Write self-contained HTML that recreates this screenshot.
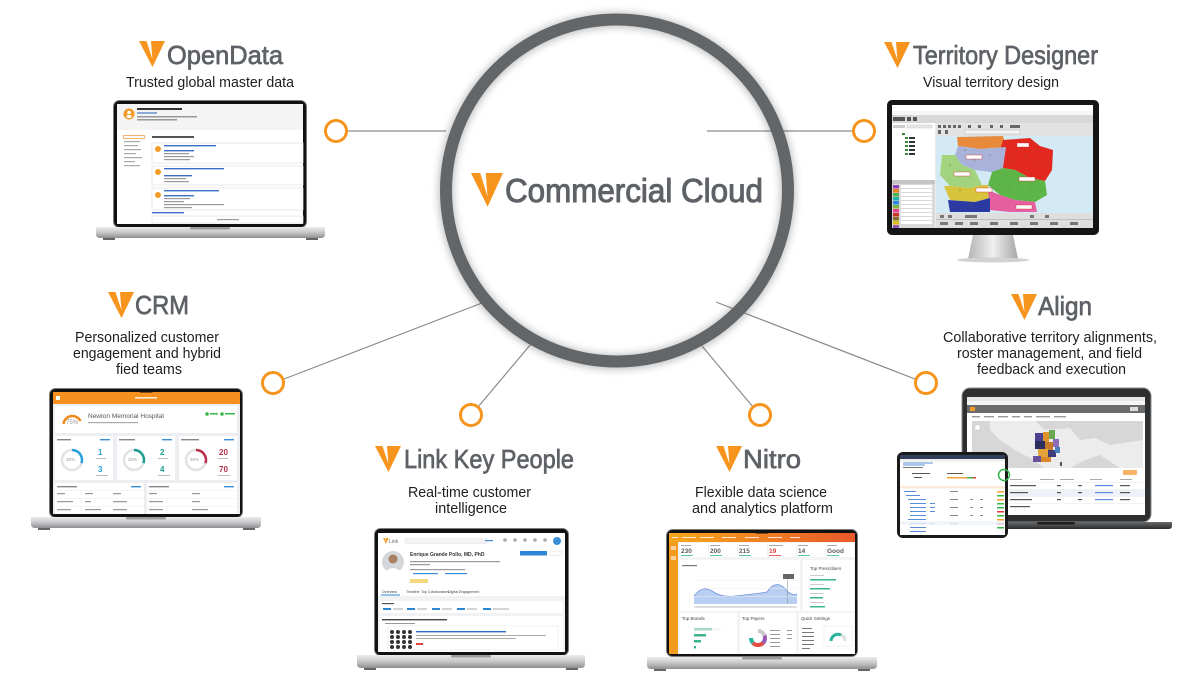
<!DOCTYPE html>
<html><head><meta charset="utf-8"><style>html,body{margin:0;padding:0;background:#fff}svg{display:block}</style></head>
<body>
<svg width="1200" height="686" viewBox="0 0 1200 686" xmlns="http://www.w3.org/2000/svg" font-family="'Liberation Sans', Arial, sans-serif">
<defs>
<linearGradient id="base" x1="0" y1="0" x2="0" y2="1"><stop offset="0" stop-color="#ececed"/><stop offset="0.5" stop-color="#c6c7c9"/><stop offset="1" stop-color="#8e8f91"/></linearGradient>
<linearGradient id="dbase" x1="0" y1="0" x2="0" y2="1"><stop offset="0" stop-color="#6a6b6d"/><stop offset="1" stop-color="#2a2b2d"/></linearGradient>
<linearGradient id="stand" x1="0" y1="0" x2="1" y2="0"><stop offset="0" stop-color="#b4b4b4"/><stop offset=".5" stop-color="#f0f0f0"/><stop offset="1" stop-color="#a6a6a6"/></linearGradient>
<linearGradient id="nbar" x1="0" y1="0" x2="1" y2="0"><stop offset="0" stop-color="#f7a81c"/><stop offset="1" stop-color="#e8582a"/></linearGradient>
<filter id="blur" x="-20%" y="-20%" width="140%" height="140%"><feGaussianBlur stdDeviation="4"/></filter>
<g id="v"><polygon points="0,0 26,0 13.5,26" fill="#f7941d"/><polygon points="7.5,0 12,0 13.4,18" fill="#fff"/></g>
</defs>

<!-- connector lines -->
<g stroke="#8c8c8c" stroke-width="1.2" fill="none">
<line x1="347" y1="131" x2="446" y2="131"/>
<line x1="707" y1="131" x2="853" y2="131"/>
<line x1="284" y1="379" x2="482" y2="303"/>
<line x1="716" y1="302" x2="915" y2="379"/>
<line x1="478" y1="407" x2="531" y2="344"/>
<line x1="753" y1="407" x2="702" y2="346"/>
</g>

<!-- central circle -->
<circle cx="617" cy="191" r="171" fill="none" stroke="#000" stroke-opacity="0.25" stroke-width="15" filter="url(#blur)"/>
<circle cx="617" cy="190.5" r="171" fill="none" stroke="#626669" stroke-width="12"/>
<use href="#v" transform="translate(471,173) scale(1.23,1.3)"/>
<text x="505" y="202" font-size="33" fill="#5e6266" stroke="#5e6266" stroke-width="1" textLength="258" lengthAdjust="spacingAndGlyphs">Commercial Cloud</text>

<!-- rings -->
<g fill="#fff" stroke="#f7941d" stroke-width="3">
<circle cx="336" cy="131" r="10.5"/>
<circle cx="864" cy="131" r="10.5"/>
<circle cx="273" cy="383" r="10.5"/>
<circle cx="926" cy="383" r="10.5"/>
<circle cx="471" cy="415" r="10.5"/>
<circle cx="760" cy="415" r="10.5"/>
</g>

<!-- product titles -->
<g fill="#5e6266" stroke="#5e6266" stroke-width="0.7" font-size="26">
<text x="167" y="64" textLength="116" lengthAdjust="spacingAndGlyphs">OpenData</text>
<text x="913" y="64" textLength="185" lengthAdjust="spacingAndGlyphs">Territory Designer</text>
<text x="135" y="314" textLength="54" lengthAdjust="spacingAndGlyphs">CRM</text>
<text x="1038" y="315" textLength="54" lengthAdjust="spacingAndGlyphs">Align</text>
<text x="404" y="468" textLength="170" lengthAdjust="spacingAndGlyphs">Link Key People</text>
<text x="743" y="468" textLength="58" lengthAdjust="spacingAndGlyphs">Nitro</text>
</g>
<use href="#v" transform="translate(139,41)"/>
<use href="#v" transform="translate(884,42)"/>
<use href="#v" transform="translate(108,292)"/>
<use href="#v" transform="translate(1011,294)"/>
<use href="#v" transform="translate(375,446)"/>
<use href="#v" transform="translate(716,446)"/>

<!-- subtitles -->
<g fill="#1e1e1e" font-size="14.5">
<text x="126" y="87" textLength="168" lengthAdjust="spacingAndGlyphs">Trusted global master data</text>
<text x="923" y="87" textLength="136" lengthAdjust="spacingAndGlyphs">Visual territory design</text>
<text x="75" y="342" textLength="144" lengthAdjust="spacingAndGlyphs">Personalized customer</text>
<text x="73" y="358" textLength="148" lengthAdjust="spacingAndGlyphs">engagement and hybrid</text>
<text x="116" y="374" textLength="66" lengthAdjust="spacingAndGlyphs">fied teams</text>
<text x="943" y="342" textLength="214" lengthAdjust="spacingAndGlyphs">Collaborative territory alignments,</text>
<text x="957" y="358" textLength="185" lengthAdjust="spacingAndGlyphs">roster management, and field</text>
<text x="977" y="374" textLength="149" lengthAdjust="spacingAndGlyphs">feedback and execution</text>
<text x="408" y="497" textLength="123" lengthAdjust="spacingAndGlyphs">Real-time customer</text>
<text x="435" y="513" textLength="72" lengthAdjust="spacingAndGlyphs">intelligence</text>
<text x="695" y="497" textLength="132" lengthAdjust="spacingAndGlyphs">Flexible data science</text>
<text x="692" y="513" textLength="141" lengthAdjust="spacingAndGlyphs">and analytics platform</text>
</g>

<!-- ============ OpenData laptop ============ -->
<rect x="113.5" y="100.5" width="193" height="127" rx="6" fill="#111" stroke="#7d7d7d"/>
<rect x="117" y="104" width="186" height="120" fill="#fff"/>
<rect x="203" y="101" width="14" height="3.5" rx="1.5" fill="#111"/>
<path d="M96 227 H325 V234 Q325 238 321 238 H100 Q96 238 96 234 Z" fill="url(#base)"/>
<rect x="190" y="227" width="40" height="2.5" rx="1" fill="#9d9d9d"/>
<rect x="103" y="238" width="12" height="2" fill="#666"/><rect x="306" y="238" width="12" height="2" fill="#666"/>
<rect x="117" y="104" width="186" height="26" fill="#f4f4f4"/>
<circle cx="129" cy="114" r="5.5" fill="#f39a2b"/>
<circle cx="129" cy="112.5" r="1.8" fill="#fff"/><rect x="126.5" y="115" width="5" height="3" rx="1.5" fill="#fff"/>
<rect x="137" y="108" width="45" height="2" fill="#333"/>
<rect x="137" y="112" width="20" height="2" fill="#8aaad8"/>
<rect x="137" y="116" width="60" height="1.5" fill="#999"/>
<rect x="137" y="119" width="40" height="1.5" fill="#999"/>
<rect x="123.5" y="135.5" width="21" height="3" fill="#fff" stroke="#f7a04a" stroke-width="0.8"/>
<g fill="#aaa"><rect x="124" y="141" width="16" height="1.2"/><rect x="124" y="145" width="14" height="1.2"/><rect x="124" y="149" width="17" height="1.2"/><rect x="124" y="153" width="12" height="1.2"/><rect x="124" y="157" width="18" height="1.2"/><rect x="124" y="161" width="11" height="1.2"/><rect x="124" y="165" width="16" height="1.2"/></g>
<rect x="152" y="136" width="42" height="2" fill="#555"/>
<g fill="#fff" stroke="#e3e3e3" stroke-width="0.8">
<rect x="152" y="143" width="151" height="20"/><rect x="152" y="166" width="151" height="19"/><rect x="152" y="188" width="151" height="22"/><rect x="152" y="216" width="151" height="7"/></g>
<g fill="#f39a2b"><circle cx="158" cy="149" r="3"/><circle cx="158" cy="172" r="3"/><circle cx="158" cy="195" r="3"/></g>
<g fill="#3a6fc4"><rect x="164" y="145" width="52" height="1.4"/><rect x="164" y="150" width="30" height="1.4"/><rect x="164" y="168" width="60" height="1.4"/><rect x="164" y="175" width="28" height="1.4"/><rect x="164" y="190" width="55" height="1.4"/><rect x="164" y="195" width="30" height="1.4"/><rect x="152" y="212" width="32" height="1.4"/></g>
<g fill="#9a9a9a"><rect x="164" y="153" width="25" height="1.2"/><rect x="164" y="156" width="30" height="1.2"/><rect x="164" y="159" width="26" height="1.2"/><rect x="164" y="178" width="22" height="1.2"/><rect x="164" y="181" width="25" height="1.2"/><rect x="164" y="198" width="26" height="1.2"/><rect x="164" y="201" width="20" height="1.2"/><rect x="164" y="204" width="60" height="1.2"/><rect x="164" y="207" width="28" height="1.2"/><rect x="217" y="219" width="22" height="1.2"/></g>

<!-- ============ Territory monitor ============ -->
<path d="M973 235 L1013 235 L1018 259 L968 259 Z" fill="url(#stand)"/>
<ellipse cx="993" cy="260" rx="36" ry="2.5" fill="#d2d2d2"/>
<rect x="887" y="100" width="212" height="135" rx="5" fill="#151515"/>
<rect x="892" y="105" width="201" height="123" fill="#ececec"/>
<rect x="892" y="105" width="201" height="6" fill="#fff"/>
<rect x="892" y="111" width="201" height="4" fill="#f6f6f6"/>
<rect x="892" y="115" width="201" height="8" fill="#d8d8d8"/>
<g fill="#555"><rect x="893" y="117" width="12" height="4"/><rect x="907" y="117" width="4" height="4"/><rect x="913" y="117" width="4" height="4"/></g>
<rect x="892" y="123" width="43" height="57" fill="#fff"/>
<rect x="893" y="125" width="12" height="3" fill="#ccc"/><rect x="907" y="125" width="25" height="3" fill="#e8e8e8" stroke="#bbb" stroke-width="0.4"/>
<g fill="#3a8a3a"><rect x="902" y="133" width="3" height="2"/><rect x="905" y="137" width="3" height="2"/><rect x="905" y="141" width="3" height="2"/><rect x="905" y="145" width="3" height="2"/><rect x="905" y="149" width="3" height="2"/><rect x="905" y="153" width="3" height="2"/></g>
<g fill="#333"><rect x="909" y="137" width="6" height="2"/><rect x="909" y="141" width="6" height="2"/><rect x="909" y="145" width="6" height="2"/><rect x="909" y="149" width="6" height="2"/><rect x="909" y="153" width="6" height="2"/></g>
<rect x="892" y="180" width="43" height="48" fill="#dadada"/>
<rect x="892" y="180" width="43" height="4" fill="#c4c4c4"/>
<g>
<rect x="893" y="185" width="6" height="3.5" fill="#8e44ad"/><rect x="893" y="189" width="6" height="3.5" fill="#e67e22"/><rect x="893" y="193" width="6" height="3.5" fill="#4caf50"/><rect x="893" y="197" width="6" height="3.5" fill="#20b2aa"/><rect x="893" y="201" width="6" height="3.5" fill="#2e86de"/><rect x="893" y="205" width="6" height="3.5" fill="#7cb342"/><rect x="893" y="209" width="6" height="3.5" fill="#e84393"/><rect x="893" y="213" width="6" height="3.5" fill="#c0392b"/><rect x="893" y="217" width="6" height="3.5" fill="#8d6e2f"/><rect x="893" y="221" width="6" height="3.5" fill="#d4c21a"/><rect x="893" y="225" width="6" height="3" fill="#9b59b6"/>
</g>
<g fill="#fff"><rect x="901" y="185" width="31" height="3"/><rect x="901" y="189" width="31" height="3"/><rect x="901" y="193" width="31" height="3"/><rect x="901" y="197" width="31" height="3"/><rect x="901" y="201" width="31" height="3"/><rect x="901" y="205" width="31" height="3"/><rect x="901" y="209" width="31" height="3"/><rect x="901" y="213" width="31" height="3"/><rect x="901" y="217" width="31" height="3"/><rect x="901" y="221" width="31" height="3"/></g>
<rect x="936" y="123" width="157" height="13" fill="#e2e2e2"/>
<g fill="#666"><rect x="938" y="125" width="3" height="3"/><rect x="943" y="125" width="3" height="3"/><rect x="948" y="125" width="3" height="3"/><rect x="953" y="125" width="3" height="3"/><rect x="958" y="125" width="3" height="3"/><rect x="968" y="125" width="3" height="3"/><rect x="978" y="125" width="3" height="3"/><rect x="990" y="125" width="3" height="3"/><rect x="1000" y="125" width="3" height="3"/><rect x="1010" y="125" width="10" height="3"/><rect x="938" y="130" width="3" height="4"/><rect x="945" y="130" width="3" height="4"/></g>
<rect x="965" y="130" width="55" height="4" fill="#f4f4f4" stroke="#aaa" stroke-width="0.4"/>
<rect x="936" y="136" width="157" height="77" fill="#d3eaf5"/>
<polygon points="957,137 1003,136 1006,147 980,149 958,146" fill="#e88a3c"/>
<polygon points="1003,140 1030,138 1040,146 1053,150 1052,170 1045,181 1030,178 1015,170 1003,168 1000,150" fill="#e1291f"/>
<polygon points="958,146 980,149 1006,147 1003,168 992,172 975,170 962,165 955,155" fill="#a9b3d9"/>
<polygon points="942,155 955,155 962,165 975,170 982,185 970,188 950,186 940,175" fill="#a2d47f"/>
<polygon points="992,172 1003,168 1015,170 1030,178 1045,181 1047,195 1035,202 1015,200 1000,195 988,185" fill="#5db548"/>
<polygon points="944,186 950,186 970,188 982,185 988,185 990,198 975,202 950,200" fill="#d8c33c"/>
<polygon points="988,190 1000,195 1015,200 1035,202 1037,212 1010,212 990,210" fill="#e55fa1"/>
<polygon points="948,200 975,202 990,198 990,212 950,212" fill="#2b3aa2"/>
<g fill="#fff" stroke="#c33" stroke-width="0.4"><rect x="1017" y="143" width="12" height="4"/><rect x="966" y="155" width="16" height="4"/><rect x="954" y="172" width="16" height="4"/><rect x="1019" y="177" width="16" height="4"/><rect x="976" y="188" width="16" height="4"/><rect x="1016" y="205" width="16" height="4"/></g>
<g fill="#7a6a30" opacity="0.6"><circle cx="965" cy="150" r="0.8"/><circle cx="975" cy="160" r="0.8"/><circle cx="990" cy="155" r="0.8"/><circle cx="1012" cy="160" r="0.8"/><circle cx="1025" cy="155" r="0.8"/><circle cx="1040" cy="165" r="0.8"/><circle cx="950" cy="165" r="0.8"/><circle cx="960" cy="190" r="0.8"/><circle cx="1000" cy="185" r="0.8"/><circle cx="1010" cy="190" r="0.8"/><circle cx="970" cy="205" r="0.8"/><circle cx="1000" cy="205" r="0.8"/><circle cx="1030" cy="190" r="0.8"/></g>
<rect x="936" y="213" width="157" height="15" fill="#dedede"/>
<rect x="936" y="219" width="157" height="0.6" fill="#aaa"/>
<g fill="#777"><rect x="940" y="215" width="4" height="3"/><rect x="948" y="215" width="4" height="3"/><rect x="965" y="215" width="12" height="3"/><rect x="1030" y="215" width="4" height="3"/><rect x="1045" y="215" width="4" height="3"/><rect x="940" y="222" width="8" height="3"/><rect x="955" y="222" width="8" height="3"/><rect x="970" y="222" width="8" height="3"/><rect x="990" y="222" width="8" height="3"/><rect x="1010" y="222" width="8" height="3"/><rect x="1030" y="222" width="8" height="3"/><rect x="1050" y="222" width="8" height="3"/><rect x="1070" y="222" width="8" height="3"/></g>

<!-- ============ CRM laptop ============ -->
<rect x="49.5" y="388.5" width="193" height="129" rx="6" fill="#111" stroke="#7d7d7d"/>
<rect x="53" y="392" width="187" height="122" fill="#eceef1"/>
<rect x="53" y="392" width="187" height="12" fill="#f6901e"/>
<rect x="139" y="389" width="14" height="3.5" rx="1.5" fill="#111"/>
<rect x="56" y="396" width="4" height="4" fill="#fff"/>
<rect x="135" y="397" width="22" height="1.6" fill="#fff" opacity="0.8"/>
<path d="M31 517 H261 V524 Q261 528 257 528 H35 Q31 528 31 524 Z" fill="url(#base)"/>
<rect x="126" y="517" width="40" height="2.5" rx="1" fill="#9d9d9d"/>
<rect x="38" y="528" width="12" height="2" fill="#666"/><rect x="243" y="528" width="12" height="2" fill="#666"/>
<rect x="55" y="406" width="182" height="27" fill="#fff"/>
<path d="M63.5 424 A9 9 0 0 1 80.5 421" fill="none" stroke="#f08a1c" stroke-width="2.5"/>
<text x="66" y="424" font-size="6" fill="#999">75%</text>
<text x="88" y="418" font-size="6.5" fill="#555">Newton Memorial Hospital</text>
<rect x="88" y="422" width="50" height="1.2" fill="#aaa"/>
<circle cx="207" cy="414" r="1.8" fill="#3ab54a"/><rect x="210" y="413" width="8" height="1.5" fill="#3ab54a"/>
<circle cx="222" cy="414" r="1.8" fill="#3ab54a"/><rect x="225" y="413" width="10" height="1.5" fill="#3ab54a"/>
<g fill="#fff"><rect x="55" y="436" width="58" height="44"/><rect x="117" y="436" width="58" height="44"/><rect x="179" y="436" width="58" height="44"/><rect x="55" y="483" width="89" height="31"/><rect x="147" y="483" width="90" height="31"/></g>
<g fill="#888"><rect x="57" y="439" width="14" height="1.4"/><rect x="119" y="439" width="16" height="1.4"/><rect x="181" y="439" width="18" height="1.4"/><rect x="57" y="486" width="20" height="1.4"/><rect x="149" y="486" width="20" height="1.4"/></g>
<g fill="#3a8fd8"><rect x="100" y="439" width="10" height="1.4"/><rect x="162" y="439" width="10" height="1.4"/><rect x="224" y="439" width="10" height="1.4"/><rect x="131" y="486" width="10" height="1.4"/><rect x="224" y="486" width="10" height="1.4"/></g>
<g fill="none" stroke="#e3e3e3" stroke-width="2.5"><circle cx="72" cy="460" r="10"/><circle cx="134" cy="460" r="10"/><circle cx="196" cy="460" r="10"/></g>
<path d="M72 450 A10 10 0 0 1 81.5 463.1" fill="none" stroke="#2aa0dc" stroke-width="2.5"/>
<path d="M134 450 A10 10 0 0 1 143.5 463.1" fill="none" stroke="#1b9d90" stroke-width="2.5"/>
<path d="M196 450 A10 10 0 0 1 205.5 463.1" fill="none" stroke="#b8304c" stroke-width="2.5"/>
<g font-size="4.5" fill="#999"><text x="66" y="461">30%</text><text x="128" y="461">30%</text><text x="190" y="461">30%</text></g>
<g font-size="8" font-weight="bold"><text x="98" y="455" fill="#2aa0dc">1</text><text x="98" y="472" fill="#2aa0dc">3</text><text x="160" y="455" fill="#1b9d90">2</text><text x="160" y="472" fill="#1b9d90">4</text><text x="219" y="455" fill="#b0304a">20</text><text x="219" y="472" fill="#b0304a">70</text></g>
<g fill="#bbb"><rect x="96" y="458" width="10" height="1"/><rect x="96" y="475" width="12" height="1"/><rect x="158" y="458" width="10" height="1"/><rect x="158" y="475" width="12" height="1"/><rect x="218" y="458" width="10" height="1"/><rect x="218" y="475" width="12" height="1"/></g>
<g fill="#eee"><rect x="55" y="490" width="89" height="0.6"/><rect x="55" y="498" width="89" height="0.6"/><rect x="55" y="506" width="89" height="0.6"/><rect x="147" y="490" width="90" height="0.6"/><rect x="147" y="498" width="90" height="0.6"/><rect x="147" y="506" width="90" height="0.6"/></g>
<g fill="#999"><rect x="57" y="493" width="8" height="1.2"/><rect x="85" y="493" width="8" height="1.2"/><rect x="113" y="493" width="8" height="1.2"/><rect x="57" y="501" width="16" height="1.2"/><rect x="85" y="501" width="6" height="1.2"/><rect x="113" y="501" width="14" height="1.2"/><rect x="57" y="509" width="14" height="1.2"/><rect x="85" y="509" width="16" height="1.2"/><rect x="113" y="509" width="14" height="1.2"/><rect x="149" y="493" width="8" height="1.2"/><rect x="192" y="493" width="8" height="1.2"/><rect x="149" y="501" width="14" height="1.2"/><rect x="192" y="501" width="8" height="1.2"/><rect x="149" y="509" width="14" height="1.2"/><rect x="192" y="509" width="16" height="1.2"/></g>

<!-- ============ Link laptop ============ -->
<rect x="374.5" y="528.5" width="194" height="127" rx="6" fill="#111" stroke="#7d7d7d"/>
<rect x="378" y="533" width="187" height="119" fill="#f1f2f4"/>
<rect x="464" y="529" width="14" height="3.5" rx="1.5" fill="#111"/>
<path d="M357 655 H585 V664 Q585 668 581 668 H361 Q357 668 357 664 Z" fill="url(#base)"/>
<rect x="451" y="655" width="40" height="2.5" rx="1" fill="#9d9d9d"/>
<rect x="364" y="668" width="12" height="2" fill="#666"/><rect x="566" y="668" width="12" height="2" fill="#666"/>
<rect x="378" y="533" width="187" height="63" fill="#fff"/>
<use href="#v" transform="translate(383,538) scale(0.22)"/>
<text x="389" y="543" font-size="5" fill="#666">Link</text>
<rect x="405" y="538.5" width="82" height="5" rx="1" fill="#f3f3f3" stroke="#ddd" stroke-width="0.4"/>
<rect x="485" y="540" width="8" height="1.2" fill="#3a8fd8"/>
<g fill="#aaa"><circle cx="505" cy="540" r="1.8"/><circle cx="515" cy="540" r="1.8"/><circle cx="525" cy="540" r="1.8"/><circle cx="535" cy="540" r="1.8"/><circle cx="545" cy="540" r="1.8"/></g>
<circle cx="557" cy="541" r="4" fill="#3b8fd6"/>
<circle cx="393" cy="562" r="11" fill="#d5d8da"/>
<circle cx="393" cy="559" r="4.5" fill="#a97f63"/>
<path d="M385 572 Q393 564 401 572 Q398 574 393 574 Q388 574 385 572 Z" fill="#fff"/>
<text x="410" y="556" font-size="5" font-weight="bold" fill="#333">Enrique Grande Pollo, MD, PhD</text>
<rect x="520" y="551" width="27" height="4.5" rx="0.5" fill="#2b87d3"/>
<rect x="550" y="551" width="12" height="4.5" rx="0.5" fill="#fff" stroke="#ccc" stroke-width="0.4"/>
<g fill="#999"><rect x="410" y="561" width="90" height="1.2"/><rect x="410" y="564" width="20" height="1.2"/><rect x="410" y="569" width="55" height="1.2"/></g>
<g fill="#3a8fd8"><rect x="413" y="573" width="25" height="1.2"/><rect x="445" y="573" width="22" height="1.2"/></g>
<rect x="410" y="579" width="18" height="4" rx="0.5" fill="#f3d77d"/>
<g font-size="3.6" fill="#444"><text x="382" y="593">Overview</text><text x="406" y="593">Timeline</text><text x="421" y="593">Top Collaborators</text><text x="448" y="593">Digital Engagement</text></g>
<rect x="381" y="594.5" width="19" height="1" fill="#2b87d3"/>
<rect x="380" y="601" width="183" height="12" fill="#fff"/>
<rect x="382" y="603" width="12" height="1.2" fill="#555"/>
<g fill="#2b87d3"><rect x="383" y="608" width="8" height="2"/><rect x="407" y="608" width="8" height="2"/><rect x="432" y="608" width="8" height="2"/><rect x="457" y="608" width="8" height="2"/><rect x="483" y="608" width="8" height="2"/></g>
<g fill="#aaa"><rect x="393" y="608.5" width="10" height="1"/><rect x="417" y="608.5" width="10" height="1"/><rect x="442" y="608.5" width="10" height="1"/><rect x="467" y="608.5" width="10" height="1"/><rect x="493" y="608.5" width="16" height="1"/></g>
<rect x="380" y="616" width="183" height="36" fill="#fff"/>
<rect x="382" y="619" width="65" height="1.4" fill="#444"/>
<rect x="385" y="623" width="30" height="1" fill="#999"/>
<rect x="388" y="626" width="170" height="24" fill="#fff" stroke="#e5e5e5" stroke-width="0.5"/>
<rect x="416" y="631" width="90" height="1.4" fill="#2b6fc4"/>
<rect x="416" y="635" width="130" height="1" fill="#aaa"/><rect x="416" y="638" width="100" height="1" fill="#aaa"/>
<rect x="416" y="643" width="7" height="2" fill="#e04040"/>
<g fill="#333"><circle cx="392" cy="632" r="2"/><circle cx="398" cy="632" r="2"/><circle cx="404" cy="632" r="2"/><circle cx="410" cy="632" r="2"/><circle cx="392" cy="637" r="2"/><circle cx="398" cy="637" r="2"/><circle cx="404" cy="637" r="2"/><circle cx="410" cy="637" r="2"/><circle cx="392" cy="642" r="2"/><circle cx="398" cy="642" r="2"/><circle cx="404" cy="642" r="2"/><circle cx="410" cy="642" r="2"/><circle cx="392" cy="647" r="2"/><circle cx="398" cy="647" r="2"/><circle cx="404" cy="647" r="2"/><circle cx="410" cy="647" r="2"/></g>

<!-- ============ Nitro laptop ============ -->
<rect x="666.5" y="529.5" width="191" height="127" rx="6" fill="#111" stroke="#7d7d7d"/>
<rect x="669" y="533" width="186" height="121" fill="#f3f4f6"/>
<rect x="669" y="533" width="186" height="9" fill="url(#nbar)"/>
<rect x="755" y="530" width="14" height="3.5" rx="1.5" fill="#111"/>
<g fill="#fff" opacity="0.8"><rect x="672" y="537" width="6" height="1"/><rect x="682" y="537" width="14" height="1"/><rect x="700" y="537" width="14" height="1"/><rect x="722" y="537" width="14" height="1"/><rect x="745" y="537" width="14" height="1"/><rect x="768" y="537" width="14" height="1"/><rect x="790" y="537" width="10" height="1"/></g>
<rect x="669" y="542" width="9" height="112" fill="#f39b1d"/>
<rect x="671" y="546" width="5" height="4" fill="#fbd29a"/><rect x="671" y="556" width="5" height="4" fill="#fbd29a"/>
<path d="M647 657 H877 V665 Q877 669 873 669 H651 Q647 669 647 665 Z" fill="url(#base)"/>
<rect x="742" y="657" width="40" height="2.5" rx="1" fill="#9d9d9d"/>
<rect x="654" y="669" width="12" height="2" fill="#666"/><rect x="858" y="669" width="12" height="2" fill="#666"/>
<rect x="680" y="543" width="174" height="14" fill="#fff"/>
<g fill="#e6e6e6"><rect x="708" y="544" width="0.6" height="12"/><rect x="737" y="544" width="0.6" height="12"/><rect x="767" y="544" width="0.6" height="12"/><rect x="796" y="544" width="0.6" height="12"/><rect x="825" y="544" width="0.6" height="12"/></g>
<g fill="#aaa"><rect x="681" y="545" width="10" height="1"/><rect x="710" y="545" width="10" height="1"/><rect x="739" y="545" width="10" height="1"/><rect x="769" y="545" width="14" height="1"/><rect x="798" y="545" width="10" height="1"/><rect x="827" y="545" width="10" height="1"/></g>
<g font-size="6.5" font-weight="bold" fill="#5a5d62"><text x="681" y="553">230</text><text x="710" y="553">200</text><text x="739" y="553">215</text><text x="769" y="553" fill="#e03a3a">19</text><text x="798" y="553">14</text><text x="827" y="553">Good</text></g>
<g fill="#3cb48a"><rect x="681" y="555" width="12" height="0.8"/><rect x="710" y="555" width="12" height="0.8"/><rect x="739" y="555" width="12" height="0.8"/><rect x="798" y="555" width="12" height="0.8"/><rect x="827" y="555" width="12" height="0.8"/></g>
<rect x="769" y="555" width="12" height="0.8" fill="#e03a3a"/>
<rect x="680" y="560" width="120" height="51" fill="#fff"/>
<rect x="682" y="565" width="15" height="1.2" fill="#777"/>
<path d="M694 596 Q702 585 712 591 Q722 598 735 596 Q755 594 767 592 Q777 577 788 592 Q794 596 797 594 L797 604 L694 604 Z" fill="#b9cff2"/>
<path d="M694 596 Q702 585 712 591 Q722 598 735 596 Q755 594 767 592 Q777 577 788 592 Q794 596 797 594" fill="none" stroke="#6d93df" stroke-width="0.8"/>
<rect x="783" y="574" width="11" height="5" fill="#666"/><rect x="787" y="579" width="0.5" height="25" fill="#888"/>
<g fill="#eee"><rect x="694" y="580" width="103" height="0.5"/><rect x="694" y="588" width="103" height="0.5"/><rect x="694" y="596" width="103" height="0.5"/></g>
<rect x="694" y="606" width="103" height="2" rx="1" fill="#dedede"/>
<rect x="803" y="560" width="51" height="51" fill="#fff"/>
<text x="810" y="570" font-size="4.5" fill="#444">Top Prescribers</text>
<g fill="#3cb48a"><rect x="810" y="579" width="26" height="1.5"/><rect x="810" y="588" width="20" height="1.5"/><rect x="810" y="597" width="13" height="1.5"/><rect x="810" y="606" width="15" height="1.5"/></g>
<g fill="#ccc"><rect x="810" y="575" width="14" height="1"/><rect x="810" y="584" width="14" height="1"/><rect x="810" y="593" width="14" height="1"/><rect x="810" y="602" width="14" height="1"/></g>
<g fill="#fff"><rect x="680" y="613" width="57" height="41"/><rect x="740" y="613" width="56" height="41"/><rect x="799" y="613" width="55" height="41"/></g>
<g font-size="4.5" fill="#444"><text x="682" y="620">Top Brands</text><text x="742" y="620">Top Payers</text><text x="801" y="620">Quick Settings</text></g>
<g fill="#3cb48a"><rect x="694" y="628" width="18" height="2.5"/><rect x="694" y="634" width="12" height="2.5"/><rect x="694" y="640" width="7" height="2.5"/><rect x="694" y="646" width="2" height="2.5"/></g>
<g fill="#eee"><rect x="694" y="628" width="27" height="2.5" opacity="0.6"/></g>
<circle cx="758" cy="638" r="7" fill="none" stroke="#4a90e2" stroke-width="4" stroke-dasharray="12 32"/>
<path d="M758 631 A7 7 0 0 1 764.5 635.5" fill="none" stroke="#ccc" stroke-width="4"/>
<path d="M764.5 635.5 A7 7 0 0 1 763 643" fill="none" stroke="#9b59b6" stroke-width="4"/>
<path d="M763 643 A7 7 0 0 1 753 643" fill="none" stroke="#e74c3c" stroke-width="4"/>
<path d="M753 643 A7 7 0 0 1 751 638" fill="none" stroke="#26b59a" stroke-width="4"/>
<g fill="#999"><rect x="770" y="630" width="10" height="1"/><rect x="770" y="634" width="10" height="1"/><rect x="770" y="638" width="10" height="1"/><rect x="770" y="642" width="10" height="1"/><rect x="770" y="646" width="10" height="1"/><rect x="787" y="630" width="5" height="1"/><rect x="787" y="634" width="5" height="1"/><rect x="787" y="638" width="5" height="1"/></g>
<g fill="#777"><rect x="802" y="628" width="10" height="1"/><rect x="802" y="632" width="12" height="1"/><rect x="802" y="636" width="12" height="1"/><rect x="802" y="640" width="12" height="1"/><rect x="802" y="644" width="12" height="1"/><rect x="802" y="648" width="8" height="1"/></g>
<rect x="824" y="626" width="28" height="20" fill="#fff" stroke="#e5e5e5" stroke-width="0.5"/>
<path d="M831 641 A7 7 0 0 1 845 641" fill="none" stroke="#e0e0e0" stroke-width="3"/>
<path d="M831 641 A7 7 0 0 1 841 635" fill="none" stroke="#26b59a" stroke-width="3"/>

<!-- ============ Align laptop + tablet ============ -->
<rect x="962" y="388" width="189" height="134" rx="8" fill="#2e2f31" stroke="#8a8b8d" stroke-width="1"/>
<rect x="967" y="397" width="178" height="118" fill="#fff"/>
<path d="M1000 522 H1172 V526 Q1172 529 1168 529 H1004 Q1000 529 1000 526 Z" fill="url(#dbase)"/>
<rect x="1037" y="522" width="38" height="2.5" rx="1" fill="#1f1f1f"/>
<rect x="967" y="397" width="178" height="4" fill="#e6e6e6"/>
<rect x="967" y="401" width="178" height="4" fill="#f5f5f5"/>
<rect x="967" y="405" width="178" height="8" fill="#6b6c6e"/>
<rect x="970" y="407" width="5" height="4" fill="#f39a2b"/>
<rect x="1130" y="407" width="8" height="4" fill="#ddd"/>
<rect x="967" y="413" width="178" height="8" fill="#fff"/>
<g fill="#999"><rect x="972" y="416" width="8" height="1.4"/><rect x="984" y="416" width="10" height="1.4"/><rect x="998" y="416" width="10" height="1.4"/><rect x="1012" y="416" width="8" height="1.4"/><rect x="1024" y="416" width="8" height="1.4"/><rect x="1036" y="416" width="14" height="1.4"/><rect x="1054" y="416" width="12" height="1.4"/></g>
<rect x="972" y="421" width="171" height="47" fill="#d7d7d7"/>
<path d="M990 421 L1035 421 L1045 430 L1070 428 L1080 440 L1095 438 L1110 445 L1143 440 L1143 468 L1120 468 L1100 455 L1085 460 L1070 468 L1045 468 L1030 458 L1015 450 L1000 440 L990 430 Z" fill="#ececec"/>
<g>
<rect x="1035" y="433" width="8" height="8" fill="#4b3f8f"/><rect x="1043" y="432" width="6" height="10" fill="#e0922a"/><rect x="1049" y="430" width="6" height="9" fill="#6aa84f"/><rect x="1035" y="441" width="10" height="8" fill="#2b2d5c"/><rect x="1045" y="442" width="8" height="8" fill="#c77a2a"/><rect x="1053" y="439" width="6" height="8" fill="#8e6fb5"/><rect x="1038" y="449" width="10" height="8" fill="#e3a43a"/><rect x="1048" y="450" width="8" height="7" fill="#3d3b7a"/><rect x="1033" y="456" width="8" height="6" fill="#6a4f9a"/><rect x="1041" y="457" width="10" height="5" fill="#d9892b"/><rect x="1055" y="447" width="5" height="6" fill="#4a7fc0"/>
</g>
<rect x="975" y="425" width="5" height="5" fill="#fff" stroke="#bbb" stroke-width="0.4"/>
<rect x="1060" y="462" width="2" height="4" fill="#555"/>
<g fill="#aaa"><rect x="1010" y="479" width="12" height="1"/><rect x="1040" y="479" width="14" height="1"/><rect x="1060" y="479" width="14" height="1"/><rect x="1090" y="479" width="12" height="1"/><rect x="1120" y="479" width="12" height="1"/></g>
<rect x="1123" y="470" width="14" height="5" rx="1" fill="#f7b267"/>
<g fill="#e8e8e8"><rect x="1005" y="482" width="140" height="0.6"/><rect x="1005" y="489" width="140" height="0.6"/><rect x="1005" y="496" width="140" height="0.6"/><rect x="1005" y="503" width="140" height="0.6"/></g>
<rect x="1005" y="490" width="140" height="6" fill="#eef2f8"/>
<g fill="#555"><rect x="1010" y="485" width="26" height="1.2"/><rect x="1010" y="492" width="18" height="1.2"/><rect x="1010" y="499" width="22" height="1.2"/><rect x="1010" y="506" width="20" height="1.2"/><rect x="1057" y="485" width="4" height="1.2"/><rect x="1057" y="492" width="4" height="1.2"/><rect x="1057" y="499" width="4" height="1.2"/><rect x="1078" y="485" width="4" height="1.2"/><rect x="1078" y="492" width="4" height="1.2"/><rect x="1078" y="499" width="4" height="1.2"/><rect x="1120" y="485" width="10" height="1.2"/><rect x="1120" y="492" width="10" height="1.2"/><rect x="1120" y="499" width="10" height="1.2"/></g>
<g fill="#5a8fd8"><rect x="1095" y="485" width="18" height="1.2"/><rect x="1095" y="492" width="18" height="1.2"/><rect x="1095" y="499" width="18" height="1.2"/></g>
<!-- tablet -->
<rect x="897" y="452" width="111" height="86" rx="6" fill="#1a1a1a"/>
<rect x="900" y="455" width="105" height="80" fill="#fff"/>
<rect x="900" y="455" width="105" height="4" fill="#2f3e5a"/>
<rect x="900" y="459" width="105" height="2.5" fill="#eee"/>
<g fill="#5a8fd8"><rect x="903" y="462.5" width="30" height="1"/><rect x="903" y="464.5" width="22" height="1"/></g>
<rect x="903" y="467" width="20" height="1" fill="#777"/>
<g fill="#555"><rect x="912" y="473" width="18" height="1"/><rect x="947" y="473" width="16" height="1"/><rect x="914" y="477" width="8" height="1"/></g>
<rect x="947" y="477" width="20" height="1.5" fill="#f3a33a"/><rect x="967" y="477" width="6" height="1.5" fill="#3ab54a"/><rect x="973" y="477" width="3" height="1.5" fill="#e03a3a"/>
<circle cx="1004" cy="475" r="5.5" fill="none" stroke="#35b24a" stroke-width="1.5"/>
<rect x="900" y="486" width="105" height="2.5" fill="#fbe9dc"/>
<g fill="#5a8fd8"><rect x="904" y="491" width="12" height="1"/><rect x="906" y="495" width="14" height="1"/><rect x="908" y="499" width="18" height="1"/><rect x="910" y="503" width="16" height="1"/><rect x="910" y="507" width="16" height="1"/><rect x="910" y="511" width="16" height="1"/><rect x="910" y="515" width="16" height="1"/><rect x="908" y="519" width="18" height="1"/><rect x="910" y="523" width="16" height="1"/><rect x="910" y="527" width="16" height="1"/><rect x="910" y="531" width="16" height="1"/><rect x="930" y="503" width="5" height="1"/><rect x="930" y="507" width="5" height="1"/><rect x="930" y="511" width="5" height="1"/><rect x="930" y="523" width="5" height="1"/></g>
<g fill="#888"><rect x="950" y="491" width="8" height="1"/><rect x="950" y="499" width="8" height="1"/><rect x="950" y="507" width="8" height="1"/><rect x="950" y="515" width="8" height="1"/><rect x="950" y="523" width="8" height="1"/><rect x="970" y="499" width="3" height="1"/><rect x="980" y="499" width="3" height="1"/><rect x="970" y="507" width="3" height="1"/><rect x="980" y="507" width="3" height="1"/><rect x="970" y="515" width="3" height="1"/><rect x="980" y="515" width="3" height="1"/></g>
<g><rect x="997" y="491" width="7" height="1.5" fill="#f3a33a"/><rect x="997" y="495" width="7" height="1.5" fill="#3ab54a"/><rect x="997" y="499" width="7" height="1.5" fill="#f3a33a"/><rect x="997" y="503" width="7" height="1.5" fill="#3ab54a"/><rect x="997" y="507" width="7" height="1.5" fill="#3ab54a"/><rect x="997" y="511" width="7" height="1.5" fill="#e03a3a"/><rect x="997" y="515" width="7" height="1.5" fill="#3ab54a"/><rect x="997" y="519" width="7" height="1.5" fill="#f3a33a"/><rect x="997" y="523" width="7" height="1.5" fill="#e03a3a"/><rect x="997" y="527" width="7" height="1.5" fill="#3ab54a"/></g>
<rect x="900" y="521" width="105" height="4" fill="#eef2f8" opacity="0.8"/>
</svg>
</body></html>
